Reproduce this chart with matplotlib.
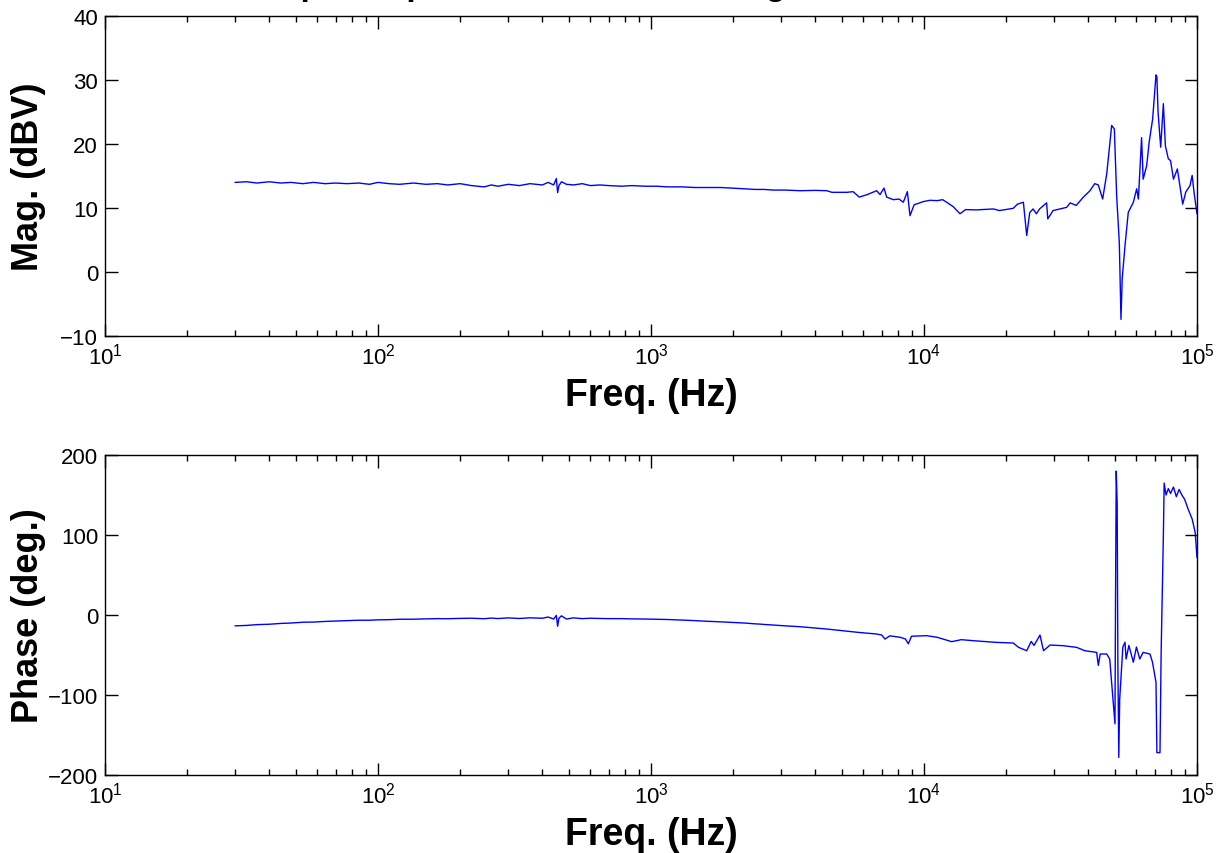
import matplotlib
matplotlib.use('Agg')
import matplotlib.pyplot as plt
from matplotlib.ticker import LogLocator, NullFormatter, MultipleLocator

# Magnitude trace
magFreq = [30, 33, 36, 40, 44, 48, 53, 58, 64, 70, 77, 85, 93, 100, 110, 120, 135, 150, 165, 180,
           200, 220, 245, 260, 275, 300, 330, 360, 400, 420, 440, 450, 455, 460, 470, 490, 520, 560,
           600, 650, 700, 780, 850, 950, 1050, 1150, 1300, 1450, 1600, 1800, 2000, 2200, 2400, 2500,
           2600, 2800, 3100,
           3514, 4000, 4401, 4600, 5212, 5500, 5794, 6200, 6709, 6900, 7137, 7300, 7727, 8100, 8400,
           8690, 8886, 9200, 9945, 10500, 11200, 11700, 12200, 12800, 13550, 14200, 15500, 17950,
           18900, 21230, 22000, 23120, 23780, 24400, 25100, 25800, 26500, 28130, 28400, 29700, 33310,
           34300, 36100, 38340, 40550, 42200, 43500, 45120, 46690, 48690, 49800, 50780, 51930, 52670,
           53200, 54480, 56000, 58460, 60120, 61000, 62660, 63500, 65410, 66800, 68790, 70760, 71300,
           72000, 73620, 75300, 76600, 78500, 80000, 82000, 84720, 88620, 91000, 94280, 96000, 97500,
           100000]
magDb = [14.0, 14.1, 13.9, 14.1, 13.9, 14.0, 13.8, 14.0, 13.8, 13.9, 13.8, 13.9, 13.7, 14.0, 13.8,
         13.7, 13.9, 13.7, 13.8, 13.6, 13.8, 13.5, 13.3, 13.6, 13.4, 13.7, 13.5, 13.8, 13.6, 14.0,
         13.6, 14.6, 12.4, 13.5, 14.1, 13.7, 13.6, 13.8, 13.5, 13.6, 13.5, 13.4, 13.5, 13.4, 13.4,
         13.3, 13.3, 13.2, 13.2, 13.2, 13.1, 13.0, 12.9, 12.9, 12.9, 12.8, 12.8,
         12.7, 12.75, 12.7, 12.45, 12.45, 12.55, 11.7, 12.1, 12.7, 12.1, 13.1, 11.7, 11.3, 11.4, 10.9,
         12.55, 8.8, 10.5, 11.0, 11.2, 11.15, 11.3, 10.8, 10.2, 9.1, 9.75, 9.7, 9.85,
         9.6, 9.95, 10.6, 10.9, 5.7, 9.3, 9.85, 9.1, 9.85, 10.8, 8.3, 9.6, 10.1,
         10.8, 10.4, 11.7, 12.7, 13.8, 13.6, 11.4, 15.3, 22.9, 22.35, 11.9, 4.6, -7.4,
         -1.1, 4.1, 9.3, 10.9, 13.0, 11.4, 21.0, 14.5, 16.6, 20.3, 23.9, 30.8, 30.5,
         25.0, 19.5, 26.3, 19.7, 17.7, 17.4, 14.5, 16.1, 10.6, 12.5, 13.5, 15.1, 12.5,
         9.1]

# Phase trace
phaseFreq = [30, 33, 36, 40, 44, 48, 53, 58, 64, 70, 77, 85, 93, 100, 110, 120, 135, 150, 165, 180,
             200, 220, 245, 260, 275, 300, 330, 360, 400, 420, 440, 450, 455, 460, 470, 490, 520, 560,
             600, 650, 700, 780, 850, 950, 1050, 1150, 1300, 1450, 1600, 1800, 2000, 2200, 2400, 2500,
             2600, 2800, 3100,
             3514, 4401, 5748, 6700, 7000, 7194, 7500, 8200, 8550, 8763, 9000, 10230, 11200, 12630,
             13700, 15160, 18450, 21230, 22200, 23780, 24700, 25300, 26600, 27400, 28950, 32300, 36240,
             38800, 42900, 43500, 44200, 46690, 47900, 49110, 50070, 50300, 50600, 51000, 51300, 51700,
             52100, 53500, 54480, 55000, 56300, 58460, 60000, 61700, 63500, 67260, 68700, 70760, 71300,
             73180, 73900, 75300, 75800, 77000, 78500, 80000, 82000, 84000, 86000, 88000, 90000, 92900,
             96000, 98500, 100000]
phaseDeg = [-13.5, -13.0, -12.0, -11.5, -10.5, -10.0, -9.0, -8.8, -8.0, -7.5, -7.0, -6.5, -6.5, -6.0,
            -5.8, -5.3, -5.2, -4.8, -4.5, -4.6, -4.2, -4.0, -4.6, -3.8, -4.4, -3.6, -4.3, -3.5, -4.0,
            -2.5, -5.0, -0.5, -14.0, -4.0, -1.0, -5.0, -3.5, -4.5, -4.0, -4.3, -4.5, -4.5, -4.8, -5.0,
            -5.3, -5.6, -6.3, -7.0, -7.8, -8.5, -9.3, -10.0, -11.0, -11.3, -11.8, -12.5, -13.5,
            -14.6, -17.5, -21.7, -23.7, -25.0, -30.0, -26.0, -27.9, -30.0, -36.0, -26.5, -25.8, -27.9, -33.3,
            -30.8, -32.1, -34.2, -35.0, -40.4, -44.6, -33.0, -38.0, -25.0, -44.6, -37.5, -38.3, -40.4,
            -44.6, -46.7, -63.0, -48.7, -48.7, -55.0, -100.8, -136.0, 20.0, 180.0, 140.0, -60.0, -178.0,
            -105.0, -40.0, -34.0, -55.0, -38.0, -59.0, -40.0, -55.0, -46.7, -48.75, -59.0, -84.0, -172.0,
            -172.0, -46.7, 99.0, 165.0, 150.0, 158.0, 152.0, 160.0, 148.0, 157.0, 150.0, 145.0, 132.0,
            120.0, 103.0, 72.0]

plt.rcParams['font.family'] = ['Liberation Sans', 'DejaVu Sans']
fig = plt.figure(figsize=(12.18, 8.54), dpi=100)

# title sits mostly above the page, only its descenders show
fig.text(0.525, 1.006, "Sample amplifier differential voltage and bandwidth",
         ha='center', va='baseline', fontsize=24, fontweight='bold')

def styleAxes(ax, yLow, yHigh, yStep, yLabel):
    ax.set_xscale('log')
    ax.set_xlim(10, 1e5)
    ax.set_ylim(yLow, yHigh)
    ax.yaxis.set_major_locator(MultipleLocator(yStep))
    ax.xaxis.set_major_locator(LogLocator(base=10, numticks=10))
    ax.xaxis.set_minor_locator(LogLocator(base=10, subs=range(2, 10), numticks=20))
    ax.xaxis.set_minor_formatter(NullFormatter())
    ax.tick_params(which='both', direction='in', top=True, right=True, labelsize=16, pad=5)
    ax.tick_params(which='major', length=9, width=1)
    ax.tick_params(which='minor', length=4, width=1)
    for spine in ax.spines.values():
        spine.set_linewidth(1)
    ax.set_xlabel("Freq. (Hz)", fontsize=27, fontweight='bold', labelpad=6)
    ax.set_ylabel(yLabel, fontsize=26, fontweight='bold')
    ax.yaxis.set_label_coords(-0.054, 0.5)

axMag = fig.add_axes([105 / 1218, 0.6054, 1092 / 1218, 0.3747])
axMag.plot(magFreq, magDb, color=(0, 0, 1), lw=1)
styleAxes(axMag, -10, 40, 10, "Mag. (dBV)")

axPhase = fig.add_axes([105 / 1218, 0.0913, 1092 / 1218, 0.3747])
axPhase.plot(phaseFreq, phaseDeg, color=(0, 0, 1), lw=1)
styleAxes(axPhase, -200, 200, 100, "Phase (deg.)")

fig.savefig("out.png", dpi=100)
